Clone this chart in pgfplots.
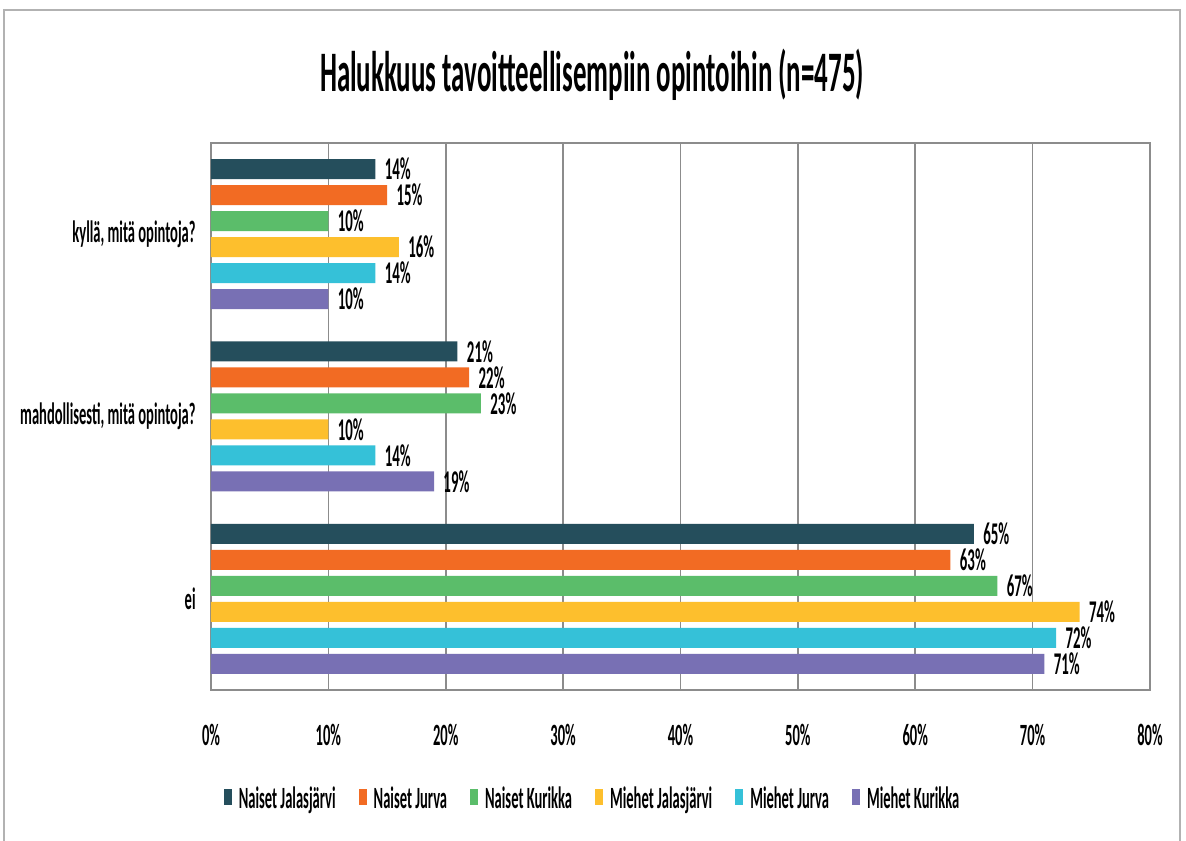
\documentclass[border=0pt]{standalone}
\usepackage{fontspec}
\setmainfont{Carlito}[FakeStretch=0.47]
\usepackage{pgfplots}
\pgfplotsset{compat=1.18}
\definecolor{cA}{HTML}{254E5C}
\definecolor{cB}{HTML}{F26B23}
\definecolor{cC}{HTML}{5BBD6A}
\definecolor{cD}{HTML}{FDBF2D}
\definecolor{cE}{HTML}{35C1D8}
\definecolor{cF}{HTML}{7870B4}
\definecolor{gridc}{HTML}{8C8C8C}
\begin{document}
\begin{tikzpicture}[x=1cm,y=1cm]
\useasboundingbox (0,0) rectangle (11.86,8.41);
\fill[white] (0,0) rectangle (11.86,8.41);
\draw[gray!60, line width=0.8pt] (0.04,0) -- (0.04,8.31) -- (11.80,8.31) -- (11.80,0);
\node[font=\bfseries\fontsize{16.3}{19}\selectfont] at (5.92,7.66) {Halukkuus tavoitteellisempiin opintoihin (n=475)};
\begin{axis}[
  at={(2.11cm,1.51cm)}, anchor=south west,
  scale only axis, width=9.39cm, height=5.47cm,
  xbar=0.06cm, bar width=0.2cm,
  xmin=0, xmax=80, ymin=-0.5, ymax=2.5,
  y dir=reverse,
  ytick={0,1,2},
  yticklabels={{kyllä, mitä opintoja?},{mahdollisesti, mitä opintoja?},{ei}},
  ytick style={draw=none},
  extra y ticks={-0.5,0.5,1.5,2.5},
  extra y tick labels={},
  extra y tick style={tick style={draw=gridc, line width=0.6pt}, major tick length=0.06cm, tick align=outside, grid=none},
  xtick={0,10,...,80},
  xtick style={draw=none},
  xticklabel={\pgfmathprintnumber[assume math mode=true]{\tick}\%},
  xticklabel style={yshift=-0.22cm},
  yticklabel style={xshift=0.12cm},
  tick label style={font=\bfseries\fontsize{8.8}{10}\selectfont, text=black},
  xmajorgrids, grid style={gridc, line width=0.45pt},
  axis line style={gridc, line width=0.6pt},
  point meta=x,
  nodes near coords={\pgfmathprintnumber[assume math mode=true]{\pgfplotspointmeta}\%},
  nodes near coords style={font=\bfseries\fontsize{9}{10}\selectfont, text=black, anchor=west, inner sep=2.5pt},
  legend columns=6,
  reverse legend,
  legend style={at={(0.409,-0.201)}, anchor=center, draw=none, fill=none,
    font=\bfseries\fontsize{8.8}{10}\selectfont,
    /tikz/every even column/.append style={column sep=0.16cm}},
  legend image code/.code={\fill[#1] (0cm,-0.05cm) rectangle (0.08cm,0.11cm);},
]
\addplot[fill=cF, draw=none] coordinates {(10,0) (19,1) (71,2)};
\addplot[fill=cE, draw=none] coordinates {(14,0) (14,1) (72,2)};
\addplot[fill=cD, draw=none] coordinates {(16,0) (10,1) (74,2)};
\addplot[fill=cC, draw=none] coordinates {(10,0) (23,1) (67,2)};
\addplot[fill=cB, draw=none] coordinates {(15,0) (22,1) (63,2)};
\addplot[fill=cA, draw=none] coordinates {(14,0) (21,1) (65,2)};
\legend{Miehet Kurikka, Miehet Jurva, Miehet Jalasjärvi, Naiset Kurikka, Naiset Jurva, Naiset Jalasjärvi}
\end{axis}
\end{tikzpicture}
\end{document}
